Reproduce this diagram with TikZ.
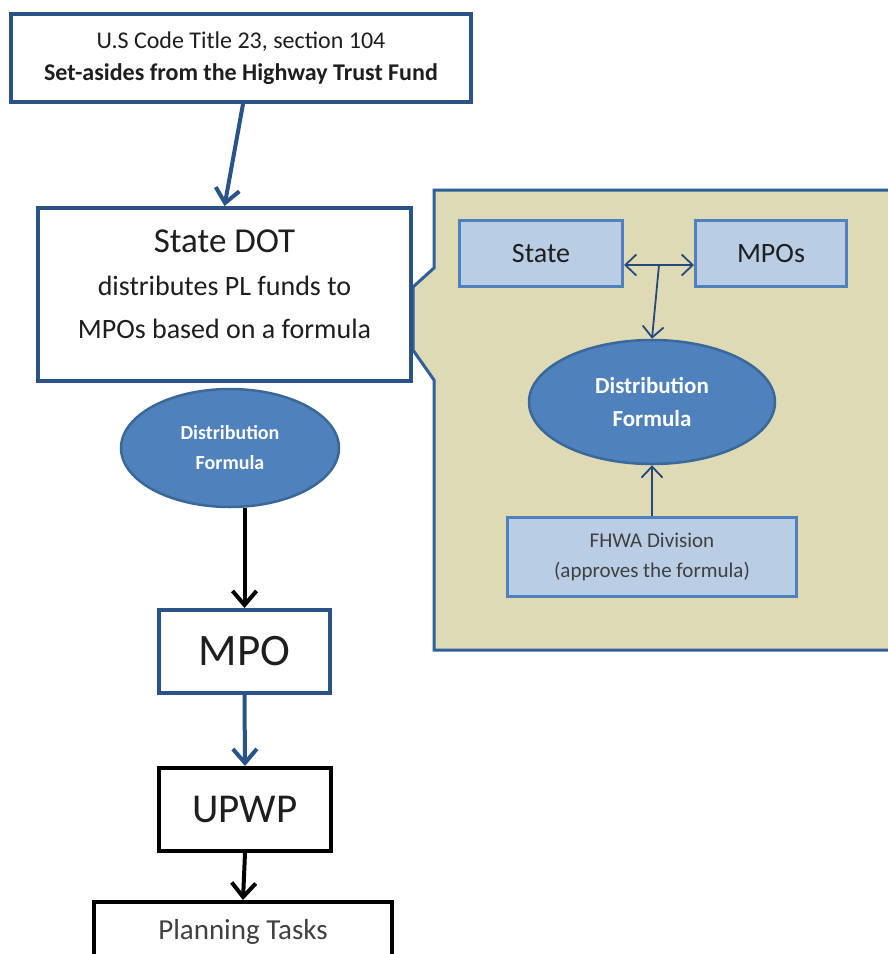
\documentclass[tikz,border=0pt]{standalone}
\usepackage{fontspec}
\setmainfont{Carlito}
\usetikzlibrary{arrows.meta,shapes.geometric}
\definecolor{dblue}{HTML}{2A5388}
\definecolor{cborder}{HTML}{30609A}
\definecolor{tanfill}{HTML}{DFDAB6}
\definecolor{lbfill}{HTML}{B9CDE5}
\definecolor{lbborder}{HTML}{4F81BD}
\definecolor{ellfill}{HTML}{4F81BD}
\definecolor{ellborder}{HTML}{3A6899}
\definecolor{ablue}{HTML}{24497A}
\definecolor{txt}{HTML}{1E1E1E}
\definecolor{gtxt}{HTML}{404040}
\tikzset{
  mainbox/.style={draw=dblue, line width=4pt, fill=white, inner sep=0pt, align=center, text=txt},
  blkbox/.style={mainbox, draw=black},
  subbox/.style={draw=lbborder, line width=3pt, fill=lbfill, inner sep=0pt, align=center, text=txt},
  formula/.style={ellipse, draw=ellborder, line width=2.5pt, fill=ellfill, text=white, inner sep=0pt, align=center},
  thickarr/.style={line width=4pt, -{Straight Barb[length=14pt,width=24pt]}},
  thinarr/.style={line width=1.8pt, draw=ablue, -{Straight Barb[length=11pt,width=21pt]}},
}
\begin{document}
\begin{tikzpicture}[x=1pt,y=-1pt]
\clip (0,0) rectangle (888,954);
\fill[white] (0,0) rectangle (888,954);

% callout panel
\filldraw[fill=tanfill, draw=cborder, line width=3pt, line join=miter]
  (434,190) -- (900,190) -- (900,650) -- (434,650) -- (434,380) -- (413,350)
  -- (413,287) -- (434,268) -- cycle;

% left column
\node[mainbox, minimum width=460pt, minimum height=88pt,
      font=\fontsize{24}{32}\selectfont] (src) at (241,58)
  {U.S Code Title 23, section 104\\\textbf{Set-asides from the Highway Trust Fund}};

\node[mainbox, minimum width=373pt, minimum height=173pt, text depth=21pt,
      font=\fontsize{28}{43}\selectfont] (sdot) at (224.5,294.5)
  {{\fontsize{35}{43}\selectfont State DOT}\\
   distributes PL funds to\\
   MPOs based on a formula};

\node[formula, minimum width=218pt, minimum height=118pt,
      font=\fontsize{20}{30}\selectfont\bfseries] (lell) at (230,448)
  {Distribution\\Formula};

\node[mainbox, minimum width=171pt, minimum height=83pt,
      font=\fontsize{45}{45}\selectfont] (mpo) at (244.5,651.5) {MPO};

\node[blkbox, minimum width=172pt, minimum height=83pt,
      font=\fontsize{41}{41}\selectfont] (upwp) at (245,809.5) {UPWP};

\node[blkbox, anchor=north, minimum width=298pt, minimum height=60pt,
      text=gtxt, font=\fontsize{29}{29}\selectfont] (plan) at (243,900) {Planning Tasks};

% right panel contents
\node[subbox, minimum width=163pt, minimum height=66pt,
      font=\fontsize{28}{28}\selectfont] (state) at (541,253.5) {State};
\node[subbox, minimum width=151pt, minimum height=66pt,
      font=\fontsize{28}{28}\selectfont] (mpos) at (771,253.5) {MPOs};
\node[formula, minimum width=246pt, minimum height=124pt,
      font=\fontsize{23}{33}\selectfont\bfseries] (rell) at (652,402)
  {Distribution\\Formula};
\node[subbox, minimum width=289pt, minimum height=79pt, text=gtxt,
      font=\fontsize{21}{30}\selectfont] (fhwa) at (652,557)
  {FHWA Division\\(approves the formula)};

\coordinate (j) at (659,265);

% connectors
\draw[thickarr, draw=dblue] ([xshift=2pt]src.south) -- (sdot.north);
\draw[thickarr, draw=black] (lell.south -| mpo.north) -- (mpo.north);
\draw[thickarr, draw=dblue] (mpo.south) -- (upwp.north);
\draw[thickarr, draw=black] (upwp.south) -- (plan.north);

\draw[thinarr] (j) -- (state.east |- j);
\draw[thinarr] (j) -- (mpos.west |- j);
\draw[thinarr] (j) -- (rell.north);
\draw[thinarr] (fhwa.north) -- (rell.south);
\end{tikzpicture}
\end{document}
